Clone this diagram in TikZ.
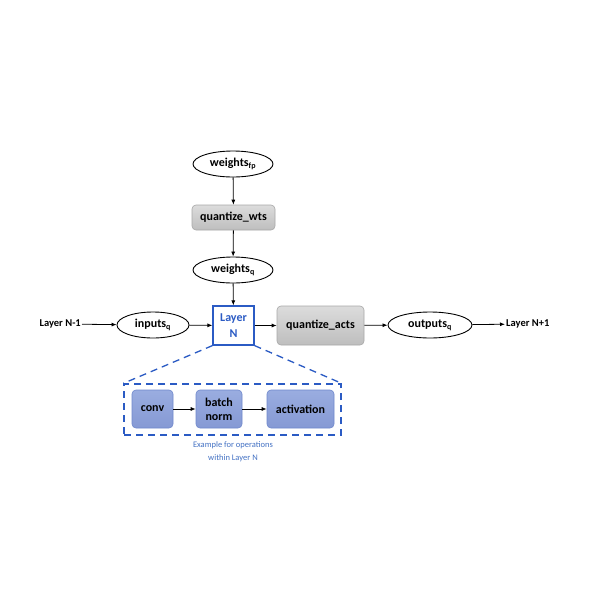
\documentclass[tikz,border=0pt]{standalone}
\usepackage{fontspec}
\setmainfont{Carlito}
\usetikzlibrary{shapes.geometric,arrows.meta,positioning}
\definecolor{grayfillA}{HTML}{DCDCDC}
\definecolor{grayfillB}{HTML}{BEBEBE}
\definecolor{grayedge}{HTML}{A8A8A8}
\definecolor{bluefillA}{HTML}{9AADE0}
\definecolor{bluefillB}{HTML}{8599D4}
\definecolor{blueedge}{HTML}{6F88CC}
\definecolor{layerblue}{HTML}{2B5BC4}
\definecolor{captionblue}{HTML}{4472C4}
\tikzset{
  mainfont/.style={font=\fontsize{12}{13}\selectfont\bfseries},
  ell/.style={ellipse, draw=black, line width=0.9pt, fill=white, minimum width=80pt, minimum height=26pt, inner sep=0pt, mainfont},
  graybox/.style={rectangle, rounded corners=4pt, draw=grayedge, line width=0.6pt, top color=grayfillA, bottom color=grayfillB, mainfont},
  bluebox/.style={rectangle, rounded corners=4pt, draw=blueedge, line width=0.6pt, top color=bluefillA, bottom color=bluefillB, mainfont, minimum height=38pt, inner sep=0pt, align=center},
  arr/.style={-{Latex[length=5pt,width=4pt]}, line width=0.8pt, black},
  lbl/.style={font=\fontsize{10.5}{12}\selectfont\bfseries, inner sep=1pt},
  dashline/.style={layerblue, line width=1.3pt, dash pattern=on 7pt off 5pt},
}
\begin{document}
\begin{tikzpicture}[x=1pt,y=-1pt]
\useasboundingbox (0,0) rectangle (600,600);
\fill[white] (0,0) rectangle (600,600);
\node[ell] (wfp) at (233,164) {weights\textsubscript{fp}};
\node[graybox, minimum width=83pt, minimum height=25pt] (qw) at (233.5,217.5) {quantize\_wts};
\node[ell] (wq) at (233,270) {weights\textsubscript{q}};
\node[rectangle, draw=layerblue, line width=1.2pt, fill=white, minimum width=41pt, minimum height=39pt, inner sep=0pt, align=center, text=layerblue, font=\fontsize{12}{16}\selectfont\bfseries] (ln) at (233.5,325.5) {Layer\\N};
\node[lbl, anchor=east] (lm1) at (82,324) {Layer N-1};
\node[ell, minimum width=72pt] (iq) at (153,325) {inputs\textsubscript{q}};
\node[graybox, minimum width=87pt, minimum height=39pt] (qa) at (320.5,325.5) {quantize\_acts};
\node[ell, minimum width=84pt] (oq) at (430,325) {outputs\textsubscript{q}};
\node[lbl, anchor=west] (lp1) at (505,324) {Layer N+1};
\draw[arr] (wfp) -- (qw);
\draw[arr] (qw) -- (wq);
\draw[arr] (wq) -- (ln);
\draw[arr] (lm1) -- (iq);
\draw[arr] (iq) -- (ln);
\draw[arr] (ln) -- (qa);
\draw[arr] (qa) -- (oq);
\draw[arr] (oq) -- (lp1);
% expansion
\node[rectangle, draw, dashline, minimum width=217pt, minimum height=51pt, inner sep=0pt] (ex) at (232.5,409.5) {};
\draw[dashline] (ln.south west) -- (ex.north west);
\draw[dashline] (ln.south east) -- (ex.north east);
\node[bluebox, minimum width=41pt] (conv) at (152.5,409) {conv};
\node[bluebox, minimum width=46pt, font=\fontsize{12}{14}\selectfont\bfseries] (bn) at (219,409) {batch\\norm};
\node[bluebox, minimum width=67pt] (act) at (300.5,409) {activation};
\draw[arr] (conv) -- (bn);
\draw[arr] (bn) -- (act);
\node[text=captionblue, align=center, font=\fontsize{8.5}{13}\selectfont] (cap) at (233,451.5) {Example for operations\\within Layer N};
\end{tikzpicture}
\end{document}
